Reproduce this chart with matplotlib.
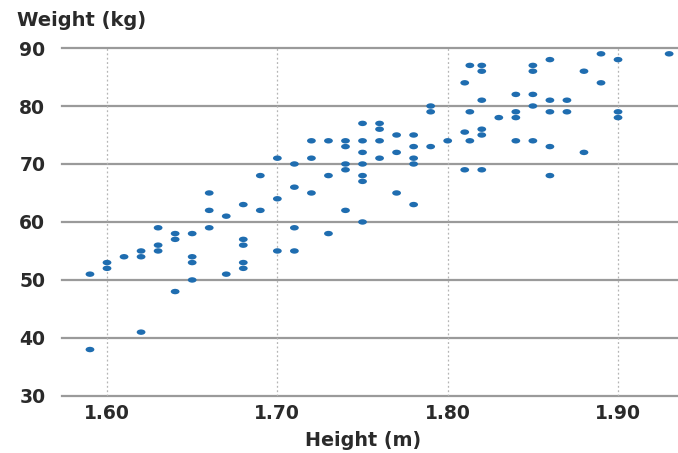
import matplotlib
matplotlib.use('Agg')
import matplotlib.pyplot as plt
from matplotlib.path import Path
from matplotlib.transforms import Affine2D

# Heights (m) and weights (kg)
height = [1.59, 1.59,
          1.60, 1.60,
          1.61,
          1.62, 1.62, 1.62,
          1.63, 1.63, 1.63,
          1.64, 1.64, 1.64,
          1.65, 1.65, 1.65, 1.65,
          1.66, 1.66, 1.66,
          1.67, 1.67,
          1.68, 1.68, 1.68, 1.68, 1.68,
          1.69, 1.69,
          1.70, 1.70, 1.70,
          1.71, 1.71, 1.71, 1.71,
          1.72, 1.72, 1.72,
          1.73, 1.73, 1.73,
          1.74, 1.74, 1.74, 1.74, 1.74,
          1.75, 1.75, 1.75, 1.75, 1.75, 1.75, 1.75,
          1.76, 1.76, 1.76, 1.76,
          1.77, 1.77, 1.77,
          1.78, 1.78, 1.78, 1.78, 1.78,
          1.79, 1.79, 1.79,
          1.80,
          1.81, 1.81, 1.81,
          1.813, 1.813, 1.813,
          1.82, 1.82, 1.82, 1.82, 1.82, 1.82,
          1.83,
          1.84, 1.84, 1.84, 1.84,
          1.85, 1.85, 1.85, 1.85, 1.85,
          1.86, 1.86, 1.86, 1.86, 1.86,
          1.87, 1.87,
          1.88, 1.88,
          1.89, 1.89,
          1.90, 1.90, 1.90,
          1.93]
weight = [51, 38,
          53, 52,
          54,
          55, 54, 41,
          59, 56, 55,
          58, 57, 48,
          58, 54, 53, 50,
          65, 62, 59,
          61, 51,
          63, 57, 56, 53, 52,
          68, 62,
          71, 64, 55,
          70, 66, 59, 55,
          74, 71, 65,
          74, 68, 58,
          74, 73, 70, 69, 62,
          77, 74, 72, 70, 68, 67, 60,
          77, 76, 74, 71,
          75, 72, 65,
          75, 73, 71, 70, 63,
          80, 79, 73,
          74,
          84, 75.5, 69,
          87, 79, 74,
          87, 86, 81, 76, 75, 69,
          78,
          82, 79, 78, 74,
          87, 86, 82, 80, 74,
          88, 81, 79, 73, 68,
          81, 79,
          86, 72,
          89, 84,
          88, 79, 78,
          89]

x_ticks = [1.60, 1.70, 1.80, 1.90]
x_labels = ['1.60', '1.70', '1.80', '1.90']
y_ticks = [30, 40, 50, 60, 70, 80, 90]

plt.rcParams['font.family'] = ['DejaVu Sans']

fig = plt.figure(figsize=(6.78, 4.53), dpi=100)
ax = fig.add_axes([0.0915, 0.126, 0.9085, 0.768])

# flattened ellipse marker
dot = Path.unit_circle().transformed(Affine2D().scale(1.0, 0.62))

ax.set_xlim(1.5736, 1.9352)
ax.set_ylim(30, 90)

for y in y_ticks:
    ax.axhline(y, color='#9a9a9a', lw=1.6, zorder=1, clip_on=False)
for x in x_ticks:
    ax.axvline(x, color='#b5b5b5', lw=0.9, ls=(0, (1.5, 2)), zorder=1)

ax.scatter(height, weight, marker=dot, s=40, color='#1f6db0', edgecolors='none', zorder=3)

for s in ax.spines.values():
    s.set_visible(False)

ax.set_xticks(x_ticks)
ax.set_xticklabels(x_labels)
ax.set_yticks(y_ticks)
ax.tick_params(length=0, labelsize=13.5, colors='#2a2a2a')
ax.tick_params(axis='y', pad=12)
ax.tick_params(axis='x', pad=6)
for lab in ax.get_xticklabels() + ax.get_yticklabels():
    lab.set_fontweight('bold')

fig.text(0.025, 0.955, 'Weight (kg)', fontsize=14, fontweight='bold', color='#2a2a2a', va='center')
fig.text(0.535, 0.027, 'Height (m)', fontsize=13.8, fontweight='bold', color='#2a2a2a', ha='center', va='center')

fig.savefig('out.png', dpi=100)
